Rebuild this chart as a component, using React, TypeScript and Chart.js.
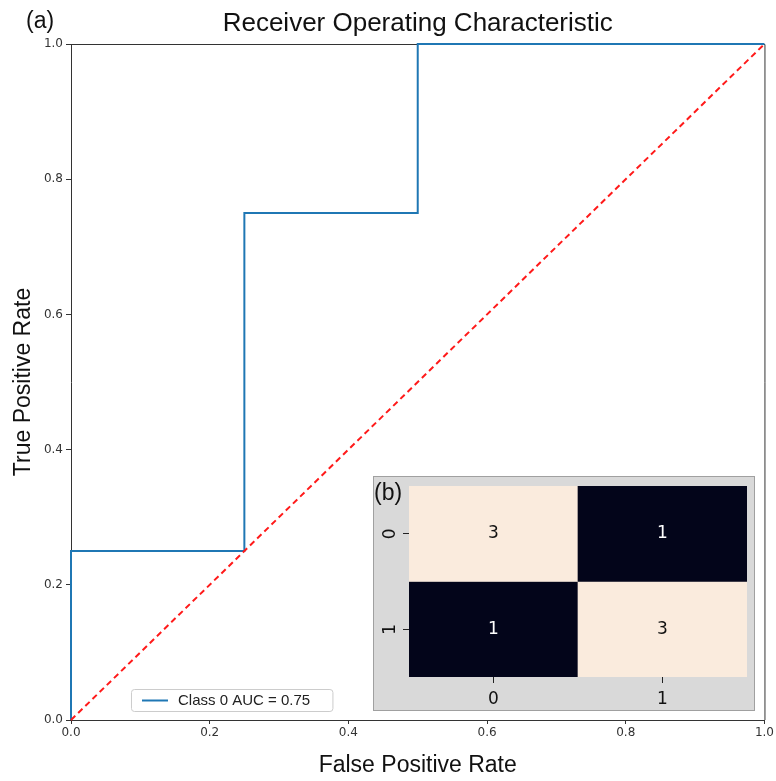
import React, { useEffect, useRef } from 'react';
import { Chart, registerables } from 'chart.js';
Chart.register(...registerables);

// ROC curve data
const fpr = [0, 0, 0.25, 0.25, 0.5, 0.5, 1];
const tpr = [0, 0.25, 0.25, 0.75, 0.75, 1, 1];
const chanceX = [0, 1];
const chanceY = [0, 1];
const xTicks = [0, 0.2, 0.4, 0.6, 0.8, 1.0];
const yTicks = [0, 0.2, 0.4, 0.6, 0.8, 1.0];
const rocLabel = 'Class 0 AUC = 0.75';
const titleText = 'Receiver Operating Characteristic';
const xTitle = 'False Positive Rate';
const yTitle = 'True Positive Rate';
const panelA = '(a)';
const panelB = '(b)';

// Confusion matrix data
const cmRows = ['0', '1'];
const cmCols = ['0', '1'];
const cmValues = [
  [3, 1],
  [1, 3],
];

const SANS = '"Liberation Sans", Arial, sans-serif';
const DEJAVU = '"DejaVu Sans", sans-serif';
const CREAM = '#faebdd';
const DARK = '#03051a';

const mainExtras = {
  id: 'mainExtras',
  afterDraw(chart: any) {
    const ctx = chart.ctx;
    const a = chart.chartArea;
    ctx.save();
    // panel label
    ctx.fillStyle = '#111';
    ctx.font = '23px ' + SANS;
    ctx.textAlign = 'left';
    ctx.textBaseline = 'middle';
    ctx.fillText(panelA, 26, 22);
    // legend
    const w = a.right - a.left;
    const lx = a.left + 0.0865 * w;
    const rx = a.left + 0.377 * w;
    const ty = a.bottom - 31;
    const by = a.bottom - 9;
    ctx.fillStyle = 'rgba(255,255,255,0.85)';
    ctx.strokeStyle = '#cccccc';
    ctx.lineWidth = 1;
    ctx.beginPath();
    (ctx as any).roundRect(lx + 0.5, ty + 0.5, rx - lx, by - ty, 3);
    ctx.fill();
    ctx.stroke();
    const ds = chart.data.datasets[0];
    const my = (ty + by) / 2 + 0.5;
    ctx.strokeStyle = ds.borderColor;
    ctx.lineWidth = 2;
    ctx.beginPath();
    ctx.moveTo(lx + 11, my);
    ctx.lineTo(lx + 37, my);
    ctx.stroke();
    ctx.fillStyle = '#222';
    ctx.font = '15px ' + SANS;
    ctx.textBaseline = 'middle';
    ctx.fillText(ds.label, lx + 47, my);
    ctx.restore();
  },
  beforeDatasetsDraw(chart: any) {
    const ctx = chart.ctx;
    const a = chart.chartArea;
    ctx.save();
    ctx.strokeStyle = '#333';
    ctx.lineWidth = 1;
    ctx.beginPath();
    ctx.moveTo(a.left, a.top + 0.5);
    ctx.lineTo(a.right + 0.5, a.top + 0.5);
    ctx.lineTo(a.right + 0.5, a.bottom);
    ctx.stroke();
    ctx.restore();
  },
};

const insetExtras = {
  id: 'insetExtras',
  beforeDraw(chart: any) {
    const ctx = chart.ctx;
    ctx.save();
    ctx.fillStyle = '#d9d9d9';
    ctx.fillRect(0, 0, chart.width, chart.height);
    ctx.strokeStyle = '#a0a0a0';
    ctx.lineWidth = 1;
    ctx.strokeRect(0.5, 0.5, chart.width - 1, chart.height - 1);
    ctx.restore();
  },
  afterDatasetsDraw(chart: any) {
    const ctx = chart.ctx;
    ctx.save();
    ctx.font = '17px ' + DEJAVU;
    ctx.textAlign = 'center';
    ctx.textBaseline = 'middle';
    chart.data.datasets.forEach((ds: any, r: number) => {
      const meta = chart.getDatasetMeta(r);
      meta.data.forEach((el: any, c: number) => {
        const v = cmValues[r][c];
        ctx.fillStyle = v >= 2 ? '#111' : '#ffffff';
        ctx.fillText(String(v), el.x, (el.y + el.base) / 2);
      });
    });
    ctx.font = '23px ' + SANS;
    ctx.fillStyle = '#111';
    ctx.textAlign = 'left';
    ctx.fillText(panelB, 1, 18);
    ctx.restore();
  },
};

export default function App() {
  const mainRef = useRef<HTMLCanvasElement>(null);
  const insetRef = useRef<HTMLCanvasElement>(null);

  useEffect(() => {
    const tickFont = { family: DEJAVU, size: 12 };
    const main = new Chart(mainRef.current as HTMLCanvasElement, {
      type: 'line',
      data: {
        datasets: [
          {
            label: rocLabel,
            data: fpr.map((x, i) => ({ x, y: tpr[i] })),
            borderColor: '#1f77b4',
            borderWidth: 2,
            pointRadius: 0,
            tension: 0,
            fill: false,
            clip: 5,
            order: 1,
          } as any,
          {
            label: 'chance',
            data: chanceX.map((x, i) => ({ x, y: chanceY[i] })),
            borderColor: '#ff1a1a',
            borderWidth: 2,
            borderDash: [6, 4],
            pointRadius: 0,
            fill: false,
            clip: 5,
            order: 0,
          } as any,
        ],
      },
      options: {
        animation: false,
        responsive: false,
        layout: { padding: { left: 0, right: 11, top: 0, bottom: 0 } },
        plugins: {
          legend: { display: false },
          tooltip: { enabled: false },
          title: {
            display: true,
            text: titleText,
            fullSize: false,
            color: '#111',
            font: { family: SANS, size: 26, weight: 'normal' as any, lineHeight: 1.2 },
            padding: { top: 8, bottom: 4.8 },
          },
        },
        scales: {
          x: {
            type: 'linear',
            min: 0,
            max: 1,
            afterBuildTicks: (s: any) => {
              s.ticks = xTicks.map((v) => ({ value: v }));
            },
            afterFit: (s: any) => {
              s.height = 61;
            },
            ticks: {
              font: tickFont,
              color: '#333',
              padding: 2,
              maxRotation: 0,
              callback: (v: any) => Number(v).toFixed(1),
            },
            grid: {
              display: true,
              drawOnChartArea: false,
              drawTicks: true,
              tickLength: 4,
              tickColor: '#333',
            },
            border: { display: true, color: '#333', width: 1 },
            title: {
              display: true,
              text: xTitle,
              color: '#111',
              font: { family: SANS, size: 23, lineHeight: 1.2 },
              padding: { top: 0, bottom: 2 },
            },
          },
          y: {
            type: 'linear',
            min: 0,
            max: 1,
            afterBuildTicks: (s: any) => {
              s.ticks = yTicks.map((v) => ({ value: v }));
            },
            afterFit: (s: any) => {
              s.width = 71;
            },
            ticks: {
              font: tickFont,
              color: '#333',
              padding: 3,
              callback: (v: any) => Number(v).toFixed(1),
            },
            grid: {
              display: true,
              drawOnChartArea: false,
              drawTicks: true,
              tickLength: 5,
              tickColor: '#333',
            },
            border: { display: true, color: '#333', width: 1 },
            title: {
              display: true,
              text: yTitle,
              color: '#111',
              font: { family: SANS, size: 23, lineHeight: 1.2 },
              padding: { top: 10, bottom: 0 },
            },
          },
        },
      },
      plugins: [mainExtras],
    });

    const inset = new Chart(insetRef.current as HTMLCanvasElement, {
      type: 'bar',
      data: {
        labels: cmCols,
        datasets: cmRows.map((_, r) => ({
          label: 'row ' + cmRows[r],
          data: cmCols.map(() => [r, r + 1]) as any,
          backgroundColor: cmValues[r].map((v) => (v >= 2 ? CREAM : DARK)),
          borderWidth: 0,
          grouped: false,
          barPercentage: 1,
          categoryPercentage: 1,
        })),
      },
      options: {
        animation: false,
        responsive: false,
        layout: { padding: { left: 0, right: 8, top: 10, bottom: 0 } },
        plugins: { legend: { display: false }, tooltip: { enabled: false }, title: { display: false } },
        scales: {
          x: {
            type: 'category',
            offset: true,
            afterFit: (s: any) => {
              s.height = 34;
              s.paddingLeft = 0;
              s.paddingRight = 0;
            },
            ticks: {
              font: { family: DEJAVU, size: 17 },
              color: '#111',
              padding: 6,
              maxRotation: 0,
            },
            grid: {
              display: true,
              offset: false,
              drawOnChartArea: false,
              drawTicks: true,
              tickLength: 6,
              tickColor: '#222',
            },
            border: { display: false },
          },
          y: {
            type: 'linear',
            min: 0,
            max: 2,
            reverse: true,
            afterBuildTicks: (s: any) => {
              s.ticks = cmRows.map((_, i) => ({ value: i + 0.5 }));
            },
            afterFit: (s: any) => {
              s.width = 36;
              s.paddingTop = 0;
              s.paddingBottom = 0;
            },
            ticks: {
              font: { family: DEJAVU, size: 17 },
              color: '#111',
              padding: 7,
              minRotation: 90,
              maxRotation: 90,
              crossAlign: 'center',
              callback: (_v: any, i: number) => cmRows[i],
            },
            grid: {
              display: true,
              drawOnChartArea: false,
              drawTicks: true,
              tickLength: 6,
              tickColor: '#222',
            },
            border: { display: false },
          },
        },
      },
      plugins: [insetExtras],
    });

    return () => {
      main.destroy();
      inset.destroy();
    };
  }, []);

  return (
    <div style={{ position: 'absolute', left: 0, top: 0, width: 776, height: 781, background: '#fff' }}>
      <canvas ref={mainRef} width={776} height={781} style={{ position: 'absolute', left: 0, top: 0, width: 776, height: 781 }} />
      <canvas ref={insetRef} width={382} height={235} style={{ position: 'absolute', left: 373, top: 476, width: 382, height: 235 }} />
    </div>
  );
}
